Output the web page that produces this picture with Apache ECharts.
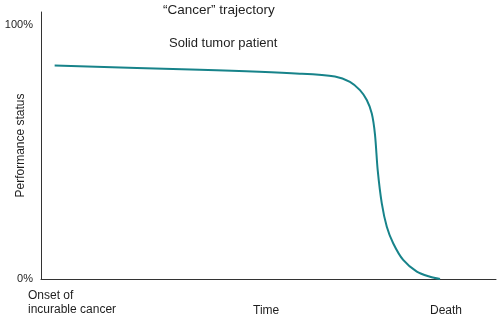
<!DOCTYPE html>
<html>
<head>
<meta charset="utf-8">
<script src="https://cdn.jsdelivr.net/npm/echarts@6/dist/echarts.min.js"></script>
<style>
  html, body { margin: 0; padding: 0; background: #ffffff; }
  #chart { width: 500px; height: 323px; }
</style>
</head>
<body>
<div id="chart"></div>
<script>
// Time runs 0..100 from onset of incurable cancer to the end of the axis
const timePoints = [3.0, 34.9, 56.9, 64.6, 67.9, 70.1, 71.6, 72.7, 73.4, 74.0, 74.9, 76.0, 77.4, 79.6, 82.6, 85.5, 87.7];
// Performance status in percent
const statusValues = [84.1, 82.4, 80.9, 79.8, 77.7, 74.4, 70.5, 65.2, 57.0, 42.9, 29.8, 20.6, 14.1, 7.5, 2.9, 0.9, 0];
const yTickLabels = { 0: '0%', 100: '100%' };
const titleText = '\u201cCancer\u201d trajectory';
const subtitleText = 'Solid tumor patient';
const yAxisTitle = 'Performance status';
const xTickLabels = ['Onset of\nincurable cancer', 'Time', 'Death'];

const font = '"Liberation Sans", Arial, sans-serif';
const textColor = '#1e1e1e';

const chart = echarts.init(document.getElementById('chart'), null, { renderer: 'canvas' });

chart.setOption({
  animation: false,
  backgroundColor: '#ffffff',
  grid: { left: 41, right: 4, top: 12, bottom: 44, containLabel: false, outerBoundsMode: 'none' },
  xAxis: {
    type: 'value',
    min: 0,
    max: 100,
    axisLine: { show: true, lineStyle: { color: '#333', width: 1 } },
    axisTick: { show: false },
    axisLabel: { show: false },
    splitLine: { show: false }
  },
  yAxis: {
    type: 'value',
    min: 0,
    max: 105.2,
    interval: 100,
    name: yAxisTitle,
    nameLocation: 'middle',
    nameRotate: 90,
    nameGap: 14,
    nameMoveOverlap: false,
    nameTextStyle: { fontFamily: font, fontSize: 12, color: textColor },
    axisLine: { show: true, lineStyle: { color: '#333', width: 1 } },
    axisTick: { show: false },
    axisLabel: {
      margin: 8,
      fontFamily: font,
      fontSize: 11,
      color: textColor,
      formatter: v => yTickLabels[Math.round(v * 10) / 10] || ''
    },
    splitLine: { show: false }
  },
  series: [{
    type: 'line',
    data: timePoints.map((t, i) => [t, statusValues[i]]),
    smooth: 0.3,
    symbol: 'none',
    lineStyle: { color: '#17838a', width: 2 }
  }],
  graphic: [
    { type: 'text', left: 163, top: 3,
      style: { text: titleText, font: '13.5px ' + font, fill: textColor } },
    { type: 'text', left: 169, top: 37,
      style: { text: subtitleText, font: '13px ' + font, fill: textColor } },
    { type: 'text', left: 28, top: 289,
      style: { text: xTickLabels[0], font: '12px ' + font, fill: textColor, lineHeight: 14 } },
    { type: 'text', left: 253, top: 305,
      style: { text: xTickLabels[1], font: '12px ' + font, fill: textColor } },
    { type: 'text', left: 430, top: 305,
      style: { text: xTickLabels[2], font: '12px ' + font, fill: textColor } }
  ]
});
</script>
</body>
</html>
